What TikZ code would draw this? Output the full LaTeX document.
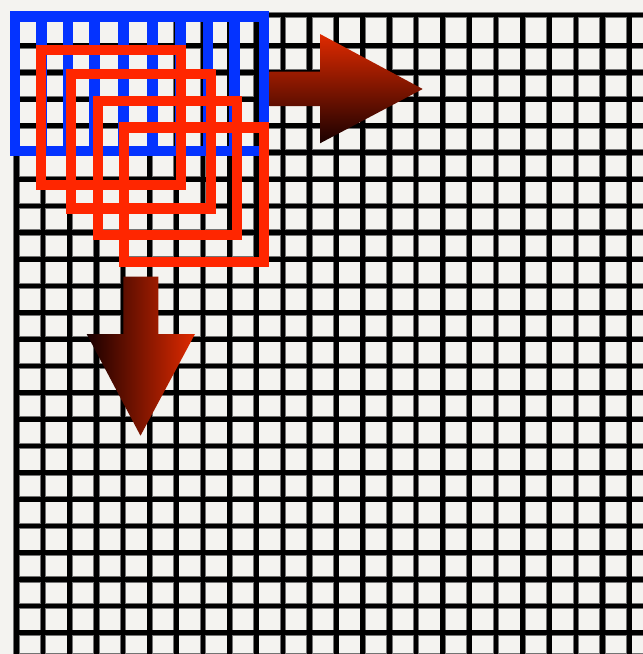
\documentclass[tikz,border=0pt]{standalone}
\usetikzlibrary{calc}
\definecolor{paper}{HTML}{F4F3F0}
\definecolor{kblue}{HTML}{0433FF}
\definecolor{kred}{HTML}{FF2600}
\definecolor{ared}{HTML}{E02A00}
\definecolor{adark}{HTML}{1A0000}
\tikzset{
  gridshadow/.style={line width=6.2pt, draw=black!55},
  gridline/.style={line width=4.7pt, draw=black},
  blueframe/.style={line width=10.6pt, draw=kblue},
  redframe/.style={line width=10.5pt, draw=kred},
}
\begin{document}
\begin{tikzpicture}[x=1pt,y=-1pt]
\useasboundingbox (0,0) rectangle (643,654);
\fill[paper] (0,0) rectangle (643,654);
\clip (0,0) rectangle (643,654);
% grid
\foreach \st in {gridshadow,gridline}{
  \foreach \k in {0,...,24}{
    \pgfmathsetmacro\xx{16.5+26.64*\k}
    \draw[\st] (\xx,12.65) -- (\xx,660);
  }
  \draw[\st] (14.15,15) -- (660,15);
  \foreach \k in {0,...,23}{
    \pgfmathsetmacro\yy{45.8+26.68*\k}
    \draw[\st] (14.15,\yy) -- (660,\yy);
  }
  \draw[\st] (14.15,656.5) -- (660,656.5);
}
% blue window
\draw[blueframe] (14.8,16.3) rectangle (263.8,150.8);
\foreach \bx in {41.3,68,94.7,123.6,152.5,180.5,208,234.7}{
  \draw[blueframe] (\bx,16.3) -- (\bx,150.8);
}
% red windows
\draw[redframe] (41.2,50.2) rectangle (180.8,184.8);
\draw[redframe] (71,74.2) rectangle (210.8,208.5);
\draw[redframe] (97.8,101) rectangle (237.2,234.8);
\draw[redframe] (124.2,127.5) rectangle (264,262);
% right arrow
\shade[top color=ared, bottom color=adark]
  (269.3,71.7) -- (320,71.7) -- (320,34) -- (422.7,89) -- (320,143.3)
  -- (320,106) -- (269.3,106) -- cycle;
% down arrow
\shade[left color=adark, right color=ared]
  (123.3,276.7) -- (158.3,276.7) -- (158.3,334) -- (195,334) -- (140.5,435.7)
  -- (86.7,334) -- (123.3,334) -- cycle;
\end{tikzpicture}
\end{document}
